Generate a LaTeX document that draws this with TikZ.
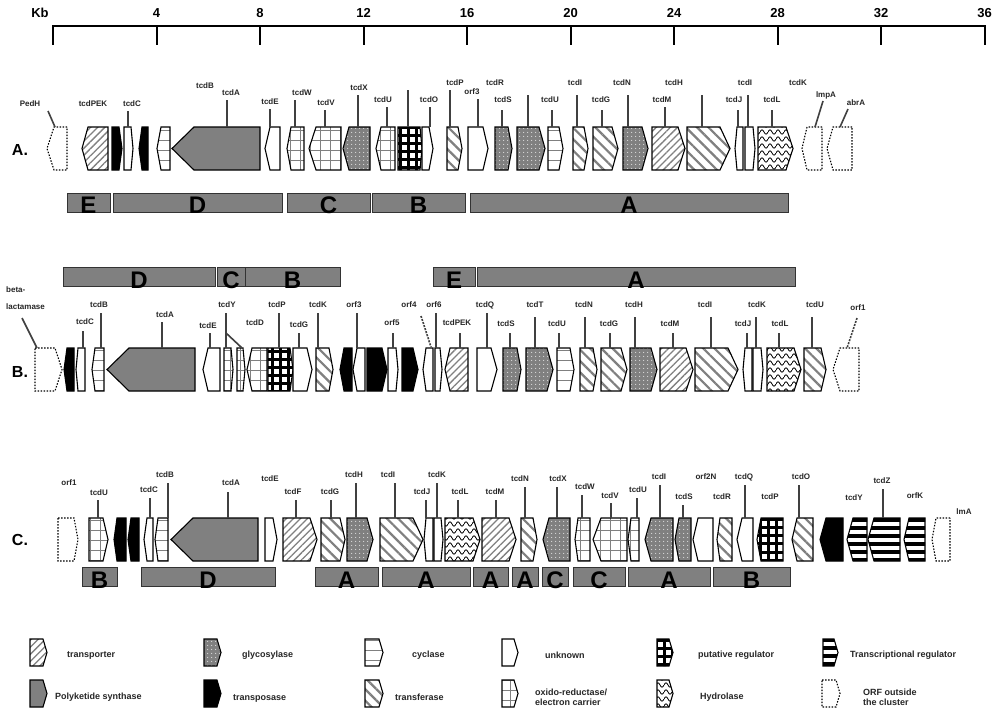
\documentclass[tikz,border=0pt]{standalone}
\usepackage{fontspec}
\setmainfont{Liberation Sans}
\usetikzlibrary{patterns.meta}
\definecolor{pksgray}{HTML}{808080}
\tikzdeclarepattern{
  name=waves, type=uncolored,
  bounding box={(0pt,-3pt) and (8pt,3pt)},
  tile size={(8pt,7pt)},
  code={\draw[line width=0.8pt] (0pt,0pt) sin (2pt,2.2pt) cos (4pt,0pt) sin (6pt,-2.2pt) cos (8pt,0pt);}
}
\tikzset{
  gene/.style={draw=black, line width=1.1pt, line join=miter},
  pks/.style={fill=pksgray},
  tpase/.style={fill=black},
  unk/.style={fill=white},
  tporter/.style={pattern={Lines[angle=45,distance=5pt,line width=1.3pt]}, pattern color=gray},
  tfer/.style={pattern={Lines[angle=-45,distance=8pt,line width=2.2pt]}, pattern color=gray},
  glyc/.style={preaction={fill=gray}, pattern={Dots[radius=0.6pt,distance=4pt]}, pattern color=white},
  cyc/.style={pattern={Lines[angle=0,distance=10pt,line width=0.9pt]}, pattern color=gray},
  oxr/.style={pattern={Hatch[angle=0,distance=10pt,line width=0.9pt]}, pattern color=gray},
  preg/.style={pattern={Hatch[angle=0,distance=8pt,line width=3pt]}, pattern color=black},
  treg/.style={pattern={Lines[angle=0,distance=8pt,line width=3.5pt]}, pattern color=black},
  hyd/.style={pattern=waves, pattern color=black},
  outs/.style={fill=white, dash pattern=on 1.5pt off 1.5pt},
  glab/.style={font=\fontsize{8}{9}\selectfont\bfseries, inner sep=0pt, text=black!85},
  conn/.style={line width=1.6pt, draw=black!75},
  dconn/.style={conn, dash pattern=on 2pt off 1.2pt},
  rbarst/.style={draw=black!80, line width=0.8pt, fill=pksgray, inner sep=0pt, minimum height=19pt},
  rlet/.style={font=\fontsize{24}{24}\selectfont\bfseries, inner sep=0pt, text=black},
  rowlab/.style={font=\fontsize{16}{16}\selectfont\bfseries, inner sep=0pt},
  scl/.style={font=\fontsize{13}{13}\selectfont\bfseries, inner sep=0pt},
  leg/.style={font=\fontsize{9}{10}\selectfont\bfseries, inner sep=0pt, text=black!85, align=left},
}
\def\gh{43}
\newcommand\myGR[4]{\draw[gene,#4] (#1,\ry) -- ({#2-#3},\ry) -- (#2,{\ry+\gh/2}) -- ({#2-#3},{\ry+\gh}) -- (#1,{\ry+\gh}) -- cycle;}
\newcommand\myGL[4]{\draw[gene,#4] (#2,\ry) -- ({#1+#3},\ry) -- (#1,{\ry+\gh/2}) -- ({#1+#3},{\ry+\gh}) -- (#2,{\ry+\gh}) -- cycle;}
\newcommand\myLab[6]{\node[glab] (#1) at (#2,#3) {#4};
  \coordinate (#1a) at (#5,#6); \coordinate (#1b) at (#5,\ry);
  \draw[conn] (#1a) -- (#1b);}
\newcommand\myLabn[4]{\node[glab] (#1) at (#2,#3) {#4};}
\newcommand\myBar[4]{\pgfmathsetmacro\bw{#3-#2}\pgfmathsetmacro\bx{(#2+#3)/2}%
  \node[rbarst, minimum width=\bw pt] (#1) at (\bx,\by) {};
  \node[rlet] (#1t) at ([yshift=-3pt]#1.center) {#4};}
\begin{document}
\begin{tikzpicture}[x=1pt,y=-1pt]
\useasboundingbox[fill=white] (0,0) rectangle (1000,720);
% scale bar
\node[scl] (kb) at (40,13) {Kb};
\coordinate (s0) at (53,26); \coordinate (s1) at (985,26);
\draw[line width=2.5pt] (s0) -- (s1);
\foreach \i/\t in {0/,1/4,2/8,3/12,4/16,5/20,6/24,7/28,8/32,9/36}{
  \coordinate (t\i) at ({53+\i*103.5},25);
  \coordinate (u\i) at ({53+\i*103.5},45);
  \draw[line width=2pt] (t\i) -- (u\i);
  \node[scl] (n\i) at ({53+\i*103.5},13) {\t};
}
% ================= Row A
\def\ry{127}
\node[rowlab] (rA) at (20,150) {A.};
\myGL{47}{67}{7}{outs}
\myGL{82}{108}{6}{tporter}
\myGR{112}{122}{3}{tpase}
\myGR{124}{133}{2}{unk}
\myGL{139}{148}{3}{tpase}
\myGL{157}{170}{4}{cyc}
\myGL{172}{260}{22}{pks}
\myGL{265}{280}{5}{unk}
\myGL{287}{304}{4}{oxr}
\myGL{309}{341}{7}{oxr}
\myGL{343}{370}{6}{glyc}
\myGL{376}{395}{5}{oxr}
\myGR{398}{422}{2}{preg}
\myGR{422}{433}{4}{unk}
\myGR{447}{462}{4}{tfer}
\myGR{468}{488}{5}{unk}
\myGR{495}{512}{4}{glyc}
\myGR{517}{545}{6}{glyc}
\myGR{548}{563}{4}{cyc}
\myGR{573}{588}{4}{tfer}
\myGR{593}{618}{6}{tfer}
\myGR{623}{648}{6}{glyc}
\myGR{652}{685}{7}{tporter}
\myGR{687}{730}{10}{tfer}
\myGL{735}{743}{2}{unk}
\myGR{745}{755}{2}{unk}
\myGR{758}{793}{7}{hyd}
\myGL{802}{822}{5}{outs}
\myGL{827}{852}{6}{outs}
\node[glab] (a1) at (30,104) {PedH};
\coordinate (a1a) at (48,111); \coordinate (a1b) at (55,127); \draw[conn] (a1a) -- (a1b);
\myLabn{a2}{93}{104}{tcdPEK}
\myLab{a3}{132}{104}{tcdC}{128}{111}
\myLabn{a4}{205}{86}{tcdB}
\myLab{a5}{231}{93}{tcdA}{227}{100}
\myLab{a6}{270}{102}{tcdE}{270}{109}
\myLab{a7}{302}{93}{tcdW}{295}{100}
\myLab{a8}{326}{103}{tcdV}{325}{110}
\myLab{a9}{359}{88}{tcdX}{358}{95}
\myLab{a10}{383}{100}{tcdU}{387}{107}
\coordinate (a0a) at (408,90); \coordinate (a0b) at (408,127); \draw[conn] (a0a) -- (a0b);
\myLab{a11}{429}{100}{tcdO}{430}{107}
\myLab{a12}{455}{83}{tcdP}{450}{90}
\myLab{a13}{472}{92}{orf3}{478}{99}
\myLabn{a14}{495}{83}{tcdR}
\coordinate (a14a) at (528,95); \coordinate (a14b) at (528,127); \draw[conn] (a14a) -- (a14b);
\myLab{a15}{503}{100}{tcdS}{502}{110}
\myLab{a16}{550}{100}{tcdU}{552}{110}
\myLab{a17}{575}{83}{tcdI}{577}{95}
\myLab{a18}{601}{100}{tcdG}{602}{110}
\myLab{a19}{622}{83}{tcdN}{628}{95}
\myLab{a20}{662}{100}{tcdM}{665}{107}
\myLabn{a21}{674}{83}{tcdH}
\coordinate (a21a) at (702,95); \coordinate (a21b) at (702,127); \draw[conn] (a21a) -- (a21b);
\myLab{a22}{734}{100}{tcdJ}{738}{110}
\myLab{a23}{745}{83}{tcdI}{748}{95}
\myLab{a24}{772}{100}{tcdL}{772}{110}
\myLabn{a25}{798}{83}{tcdK}
\node[glab] (a26) at (826,95) {lmpA};
\coordinate (a26a) at (823,101); \coordinate (a26b) at (815,127); \draw[conn] (a26a) -- (a26b);
\node[glab] (a27) at (856,103) {abrA};
\coordinate (a27a) at (848,109); \coordinate (a27b) at (840,127); \draw[conn] (a27a) -- (a27b);
\def\by{202.5}
\myBar{ra1}{67}{110}{E}
\myBar{ra2}{113}{282}{D}
\myBar{ra3}{287}{370}{C}
\myBar{ra4}{372}{465}{B}
\myBar{ra5}{470}{788}{A}
% ================= Row B
\def\by{277}
\myBar{rb1}{63}{215}{D}
\myBar{rb2}{217}{245}{C}
\myBar{rb3}{245}{340}{B}
\myBar{rb4}{433}{475}{E}
\myBar{rb5}{477}{795}{A}
\def\ry{348}
\node[rowlab] (rB) at (20,372) {B.};
\myGR{35}{62}{7}{outs}
\myGL{64}{74}{3}{tpase}
\myGL{76}{85}{2}{unk}
\myGL{92}{104}{3}{cyc}
\myGL{107}{195}{22}{pks}
\myGL{203}{220}{5}{unk}
\myGR{224}{233}{2}{oxr}
\myGR{237}{245}{2}{oxr}
\myGL{247}{267}{5}{oxr}
\myGR{268}{293}{3}{preg}
\myGR{293}{312}{5}{unk}
\myGR{316}{333}{4}{tfer}
\myGL{340}{352}{4}{tpase}
\myGL{353}{365}{4}{unk}
\myGR{367}{387}{5}{tpase}
\myGR{388}{398}{2}{unk}
\myGR{402}{418}{5}{tpase}
\myGL{423}{433}{3}{unk}
\myGR{435}{442}{2}{unk}
\myGL{445}{468}{5}{tporter}
\myGR{477}{497}{6}{unk}
\myGR{503}{521}{4}{glyc}
\myGR{526}{553}{6}{glyc}
\myGR{557}{574}{4}{cyc}
\myGR{580}{597}{4}{tfer}
\myGR{601}{627}{6}{tfer}
\myGR{630}{657}{6}{glyc}
\myGR{660}{693}{7}{tporter}
\myGR{695}{738}{10}{tfer}
\myGL{743}{752}{2}{unk}
\myGR{753}{763}{2}{unk}
\myGR{767}{801}{7}{hyd}
\myGR{804}{826}{5}{tfer}
\myGL{833}{859}{7}{outs}
\node[glab, anchor=west] (b0) at (6,290) {beta-};
\node[glab, anchor=west] (b0b) at (6,307) {lactamase};
\coordinate (b0c) at (22,318); \coordinate (b0d) at (37,348); \draw[conn] (b0c) -- (b0d);
\myLab{b1}{85}{322}{tcdC}{83}{331}
\myLab{b2}{99}{305}{tcdB}{101}{313}
\myLab{b3}{165}{315}{tcdA}{162}{322}
\myLab{b4}{208}{326}{tcdE}{210}{333}
\myLab{b5}{227}{305}{tcdY}{226}{313}
\coordinate (b5c) at (226,333); \coordinate (b5d) at (242,348); \draw[conn] (b5c) -- (b5d);
\myLabn{b6}{255}{323}{tcdD}
\myLab{b7}{277}{305}{tcdP}{279}{313}
\myLab{b8}{299}{325}{tcdG}{299}{333}
\myLab{b9}{318}{305}{tcdK}{318}{313}
\myLab{b10}{354}{305}{orf3}{357}{313}
\myLab{b11}{392}{323}{orf5}{393}{333}
\myLabn{b12}{409}{305}{orf4}
\coordinate (b12a) at (421,316); \coordinate (b12b) at (431,347); \draw[dconn] (b12a) -- (b12b);
\myLab{b13}{434}{305}{orf6}{436}{313}
\myLab{b14}{457}{323}{tcdPEK}{460}{333}
\myLab{b15}{485}{305}{tcdQ}{487}{313}
\myLab{b16}{506}{324}{tcdS}{510}{333}
\myLab{b17}{535}{305}{tcdT}{535}{317}
\myLab{b18}{557}{324}{tcdU}{559}{333}
\myLab{b19}{584}{305}{tcdN}{585}{317}
\myLab{b20}{609}{324}{tcdG}{610}{333}
\myLab{b21}{634}{305}{tcdH}{635}{317}
\myLab{b22}{670}{324}{tcdM}{673}{333}
\myLab{b23}{705}{305}{tcdI}{711}{317}
\myLab{b24}{743}{324}{tcdJ}{747}{333}
\myLab{b25}{757}{305}{tcdK}{756}{317}
\myLab{b26}{780}{324}{tcdL}{779}{333}
\myLab{b27}{815}{305}{tcdU}{812}{317}
\myLabn{b28}{858}{308}{orf1}
\coordinate (b28a) at (857,318); \coordinate (b28b) at (847,348); \draw[dconn] (b28a) -- (b28b);
% ================= Row C
\def\ry{518}
\node[rowlab] (rC) at (20,540) {C.};
\myGR{58}{78}{4}{outs}
\myGR{89}{108}{5}{oxr}
\myGL{114}{126}{3}{tpase}
\myGL{128}{139}{3}{tpase}
\myGL{144}{153}{3}{unk}
\myGL{155}{168}{3}{cyc}
\myGL{171}{258}{22}{pks}
\myGR{265}{277}{4}{unk}
\myGR{283}{317}{7}{tporter}
\myGR{321}{345}{5}{tfer}
\myGR{347}{373}{6}{glyc}
\myGR{380}{423}{10}{tfer}
\myGL{424}{433}{2}{unk}
\myGR{434}{443}{2}{unk}
\myGR{445}{480}{7}{hyd}
\myGR{482}{516}{7}{tporter}
\myGR{521}{537}{4}{tfer}
\myGL{543}{570}{6}{glyc}
\myGL{575}{590}{3}{oxr}
\myGL{593}{627}{8}{oxr}
\myGL{628}{639}{3}{oxr}
\myGL{645}{673}{6}{glyc}
\myGL{675}{691}{4}{glyc}
\myGL{693}{713}{5}{unk}
\myGL{717}{732}{3}{tfer}
\myGL{737}{753}{5}{unk}
\myGL{757}{783}{4}{preg}
\myGL{792}{813}{5}{tfer}
\myGL{820}{843}{6}{tpase}
\myGL{847}{867}{6}{treg}
\myGL{868}{900}{6}{treg}
\myGL{904}{925}{5}{treg}
\myGL{932}{950}{4}{outs}
\myLabn{c1}{69}{483}{orf1}
\myLab{c2}{99}{493}{tcdU}{98}{500}
\myLab{c3}{149}{490}{tcdC}{150}{498}
\myLab{c4}{165}{475}{tcdB}{168}{483}
\myLab{c5}{231}{483}{tcdA}{228}{492}
\myLabn{c6}{270}{479}{tcdE}
\myLab{c7}{293}{492}{tcdF}{296}{500}
\myLab{c8}{330}{492}{tcdG}{331}{500}
\myLab{c9}{354}{475}{tcdH}{356}{483}
\myLab{c10}{388}{475}{tcdI}{395}{483}
\myLab{c11}{422}{492}{tcdJ}{426}{500}
\myLab{c12}{437}{475}{tcdK}{437}{483}
\myLab{c13}{460}{492}{tcdL}{458}{500}
\myLab{c14}{495}{492}{tcdM}{496}{500}
\myLab{c15}{520}{479}{tcdN}{525}{487}
\myLab{c16}{558}{479}{tcdX}{557}{487}
\myLab{c17}{585}{487}{tcdW}{582}{495}
\myLab{c18}{610}{496}{tcdV}{611}{503}
\myLab{c19}{638}{490}{tcdU}{637}{498}
\myLab{c20}{659}{477}{tcdI}{660}{485}
\myLab{c21}{684}{497}{tcdS}{683}{505}
\myLabn{c22}{706}{477}{orf2N}
\myLabn{c23}{722}{497}{tcdR}
\myLab{c24}{744}{477}{tcdQ}{745}{485}
\myLabn{c25}{770}{497}{tcdP}
\myLab{c26}{801}{477}{tcdO}{799}{485}
\myLabn{c27}{854}{498}{tcdY}
\myLab{c28}{882}{481}{tcdZ}{883}{489}
\myLabn{c29}{915}{496}{orfK}
\myLabn{c30}{964}{512}{lmA}
\def\by{577}
\myBar{rc1}{82}{117}{B}
\myBar{rc2}{141}{275}{D}
\myBar{rc3}{315}{378}{A}
\myBar{rc4}{382}{470}{A}
\myBar{rc5}{473}{508}{A}
\myBar{rc6}{512}{538}{A}
\myBar{rc7}{542}{568}{C}
\myBar{rc8}{573}{625}{C}
\myBar{rc9}{628}{710}{A}
\myBar{rc10}{713}{790}{B}
% ================= Legend
\def\gh{27}
\def\ry{639}
\myGR{30}{47}{4}{tporter}
\myGR{204}{221}{4}{glyc}
\myGR{365}{383}{4}{cyc}
\myGR{502}{518}{4}{unk}
\myGR{657}{673}{4}{preg}
\myGR{823}{838}{4}{treg}
\def\ry{680}
\myGR{30}{47}{4}{pks}
\myGR{204}{221}{4}{tpase}
\myGR{365}{383}{4}{tfer}
\myGR{502}{518}{4}{oxr}
\myGR{657}{673}{4}{hyd}
\myGR{822}{840}{4}{outs}
\node[leg, anchor=west] (l1) at (67,655) {transporter};
\node[leg, anchor=west] (l2) at (242,655) {glycosylase};
\node[leg, anchor=west] (l3) at (412,655) {cyclase};
\node[leg, anchor=west] (l4) at (545,655) {unknown};
\node[leg, anchor=west] (l5) at (698,655) {putative regulator};
\node[leg, anchor=west] (l6) at (850,655) {Transcriptional regulator};
\node[leg, anchor=west] (l7) at (55,697) {Polyketide synthase};
\node[leg, anchor=west] (l8) at (233,698) {transposase};
\node[leg, anchor=west] (l9) at (395,697) {transferase};
\node[leg, anchor=west] (l10) at (535,697) {oxido-reductase/\\electron carrier};
\node[leg, anchor=west] (l11) at (700,697) {Hydrolase};
\node[leg, anchor=west] (l12) at (863,697) {ORF outside\\the cluster};
\end{tikzpicture}
\end{document}
